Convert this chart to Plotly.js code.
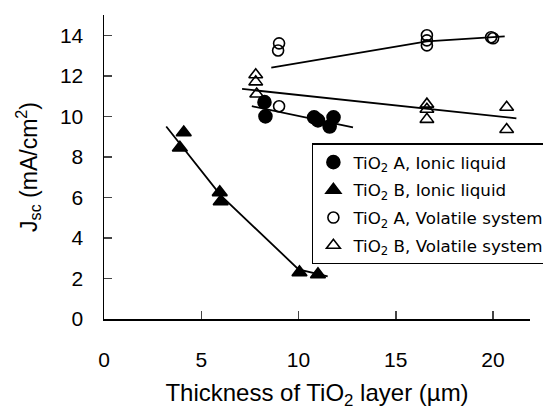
<!DOCTYPE html>
<html><head><meta charset="utf-8">
<script src="https://cdn.plot.ly/plotly-3.0.1.min.js"></script>
<style>body{margin:0;background:#fff}#c{width:543px;height:410px}</style>
</head><body><div id="c"></div>
<script>
// Data points
const ionicA_x = [8.25, 8.3, 10.8, 11.0, 11.6, 11.8];
const ionicA_y = [10.7, 10.0, 9.95, 9.8, 9.5, 9.95];
const ionicB_x = [3.9, 4.1, 5.95, 6.0, 10.05, 11.0];
const ionicB_y = [8.45, 9.2, 6.25, 5.8, 2.3, 2.2];
const volA_x = [9.0, 8.95, 9.0, 16.6, 16.6, 16.6, 19.9, 20.0];
const volA_y = [13.6, 13.25, 10.5, 14.0, 13.75, 13.5, 13.9, 13.85];
const volB_x = [7.8, 7.8, 7.85, 16.6, 16.6, 16.6, 20.7, 20.7];
const volB_y = [12.05, 11.7, 11.1, 10.6, 10.35, 9.85, 10.45, 9.35];
// Fit lines
const fitA_ionic_x = [7.6, 12.8];
const fitA_ionic_y = [10.5, 9.45];
const fitB_ionic_x = [3.2, 6.0, 10.0, 11.5];
const fitB_ionic_y = [9.5, 6.1, 2.45, 2.1];
const fitA_vol_x = [8.6, 16.6, 20.6];
const fitA_vol_y = [12.4, 13.7, 13.95];
const fitB_vol_x = [7.1, 21.2];
const fitB_vol_y = [11.35, 9.9];
// Labels
const names = ['TiO<sub>2</sub> A, Ionic liquid','TiO<sub>2</sub> B, Ionic liquid',
  'TiO<sub>2</sub> A, Volatile system','TiO<sub>2</sub> B, Volatile system'];
const xTicks = [0,5,10,15,20];
const yTicks = [0,2,4,6,8,10,12,14];

const FONT = 'Liberation Sans, Arial, sans-serif';
const ln = (x,y)=>({x,y,mode:'lines',type:'scatter',showlegend:false,hoverinfo:'skip',
  line:{color:'#000',width:1.8}});
const pts = (x,y,name,symbol,g,sz)=>({x,y,name,mode:'markers',type:'scatter',legendgroup:g,
  marker:{symbol,size:sz,color:'#000',line:{color:'#000',width:1.6}}});

const data = [
  ln(fitA_ionic_x,fitA_ionic_y), ln(fitB_ionic_x,fitB_ionic_y),
  ln(fitA_vol_x,fitA_vol_y), ln(fitB_vol_x,fitB_vol_y),
  pts(ionicA_x,ionicA_y,names[0],'circle','a',13),
  pts(ionicB_x,ionicB_y,names[1],'triangle-up','b',13),
  pts(volA_x,volA_y,names[2],'circle-open','c',11),
  pts(volB_x,volB_y,names[3],'triangle-up-open','d',12)
];

const layout = {
  width:543, height:410,
  margin:{l:104, r:13, t:15, b:91, autoexpand:false},
  paper_bgcolor:'#fff', plot_bgcolor:'#fff',
  font:{family:FONT, color:'#000'},
  showlegend:true,
  legend:{x:0.488, y:0.578, xanchor:'left', yanchor:'top', bordercolor:'#000', borderwidth:1.5,
    bgcolor:'#fff', font:{size:16.7, family:'DejaVu Sans, sans-serif'}, traceorder:'grouped', tracegroupgap:3, itemwidth:30},
  xaxis:{range:[0,21.9], tickvals:xTicks, ticks:'inside', ticklen:8, tickwidth:1.5,
    showline:true, linecolor:'#000', linewidth:1.5, showgrid:false, zeroline:false,
    tickfont:{size:21}, ticklabelstandoff:21,
    title:{text:'Thickness of TiO<sub>2</sub> layer (µm)', font:{size:24}, standoff:15}},
  yaxis:{range:[0,15], tickvals:yTicks, ticks:'inside', ticklen:8, tickwidth:1.5,
    showline:true, linecolor:'#000', linewidth:1.5, showgrid:false, zeroline:false,
    tickfont:{size:21}, ticklabelstandoff:15,
    title:{text:'J<sub>sc</sub> (mA/cm<sup>2</sup>)', font:{size:23}, standoff:16}}
};
Plotly.newPlot('c', data, layout, {staticPlot:true});
</script></body></html>
